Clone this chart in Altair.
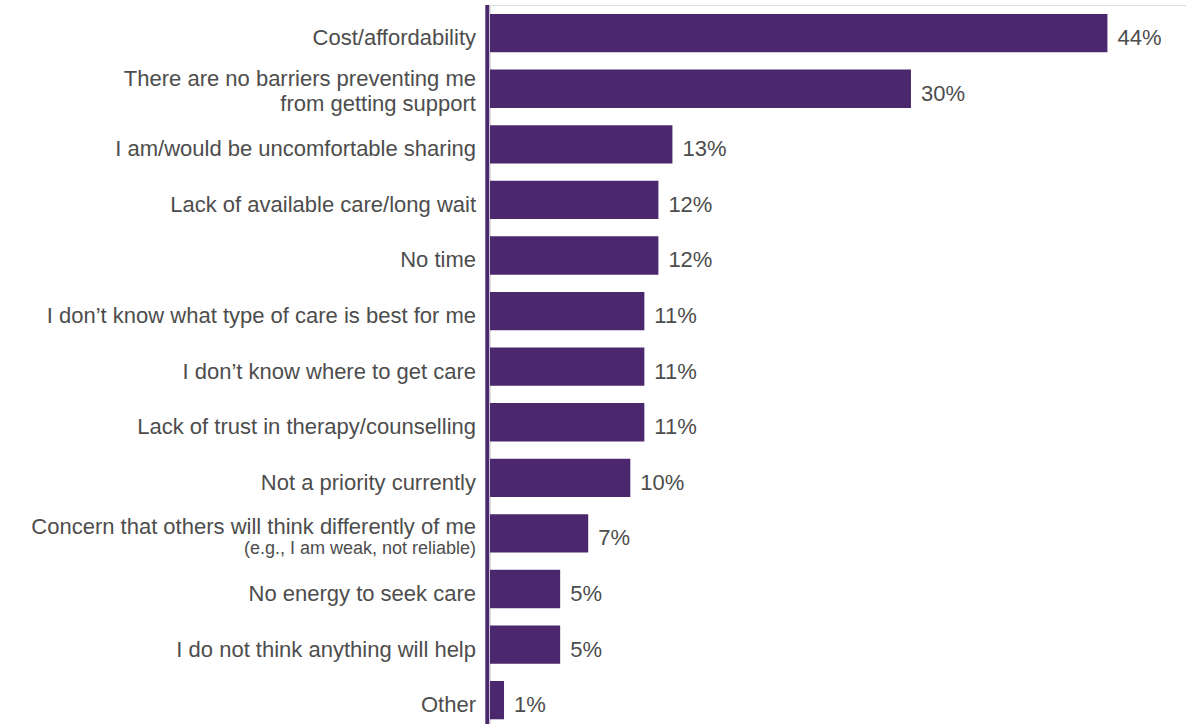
import altair as alt
import pandas as pd

categories = [
    "Cost/affordability",
    "There are no barriers preventing me from getting support",
    "I am/would be uncomfortable sharing",
    "Lack of available care/long wait",
    "No time",
    "I don’t know what type of care is best for me",
    "I don’t know where to get care",
    "Lack of trust in therapy/counselling",
    "Not a priority currently",
    "Concern that others will think differently of me (e.g., I am weak, not reliable)",
    "No energy to seek care",
    "I do not think anything will help",
    "Other",
]
values = [44, 30, 13, 12, 12, 11, 11, 11, 10, 7, 5, 5, 1]

# label lines: (category index, text, kind)
label_category_index = [0, 1, 1, 2, 3, 4, 5, 6, 7, 8, 9, 9, 10, 11, 12]
label_texts = [
    "Cost/affordability",
    "There are no barriers preventing me",
    "from getting support",
    "I am/would be uncomfortable sharing",
    "Lack of available care/long wait",
    "No time",
    "I don’t know what type of care is best for me",
    "I don’t know where to get care",
    "Lack of trust in therapy/counselling",
    "Not a priority currently",
    "Concern that others will think differently of me",
    "(e.g., I am weak, not reliable)",
    "No energy to seek care",
    "I do not think anything will help",
    "Other",
]
label_kinds = [
    "single", "top", "bottom", "single", "single", "single", "single", "single",
    "single", "single", "main", "note", "single", "single", "single",
]

PURPLE = "#4B286D"
TEXT = "#4d4d4d"
FONT = "Liberation Sans"

bars_df = pd.DataFrame({
    "category": categories,
    "value": values,
    "label": [f"{v}%" for v in values],
})
labels_df = pd.DataFrame({
    "category": [categories[i] for i in label_category_index],
    "text": label_texts,
    "kind": label_kinds,
})

W, H = 696, 719
xscale = alt.Scale(domain=[0, 49.6], nice=False, zero=True)
yscale = alt.Scale(paddingInner=0.311, paddingOuter=0.1235, align=0.657)

y_enc = alt.Y("category:N", sort=categories, scale=yscale, axis=None)

bars = alt.Chart(bars_df).mark_bar(color=PURPLE).encode(
    x=alt.X("value:Q", scale=xscale, axis=None),
    y=y_enc,
)

values_text = alt.Chart(bars_df).mark_text(
    align="left", baseline="alphabetic", dx=10, dy=12,
    font=FONT, fontSize=22, color=TEXT,
).encode(
    x=alt.X("value:Q", scale=xscale, axis=None),
    y=y_enc,
    text="label:N",
)

def label_layer(kind, dy, size):
    return alt.Chart(labels_df).transform_filter(
        alt.datum.kind == kind
    ).mark_text(
        align="right", baseline="alphabetic", dy=dy,
        font=FONT, fontSize=size, color=TEXT,
    ).encode(
        x=alt.value(-14),
        y=y_enc,
        text="text:N",
    )

axis_line = alt.Chart(pd.DataFrame({"a": [0]})).mark_rule(
    color=PURPLE, strokeWidth=4
).encode(
    x=alt.value(-2.7),
    y=alt.value(0),
    y2=alt.value(H + 5),
)

chart = alt.layer(
    bars,
    values_text,
    label_layer("single", 12, 22),
    label_layer("top", -3, 22),
    label_layer("bottom", 22, 22),
    label_layer("main", 1, 22),
    label_layer("note", 21, 18),
    axis_line,
).properties(
    width=W,
    height=H,
    autosize=alt.AutoSizeParams(type="none"),
    padding={"left": 490, "top": 5, "right": 0, "bottom": 0},
).configure_view(stroke=None).configure(background="white")

chart.save("out.html", embed_options={"renderer": "svg", "actions": False})
